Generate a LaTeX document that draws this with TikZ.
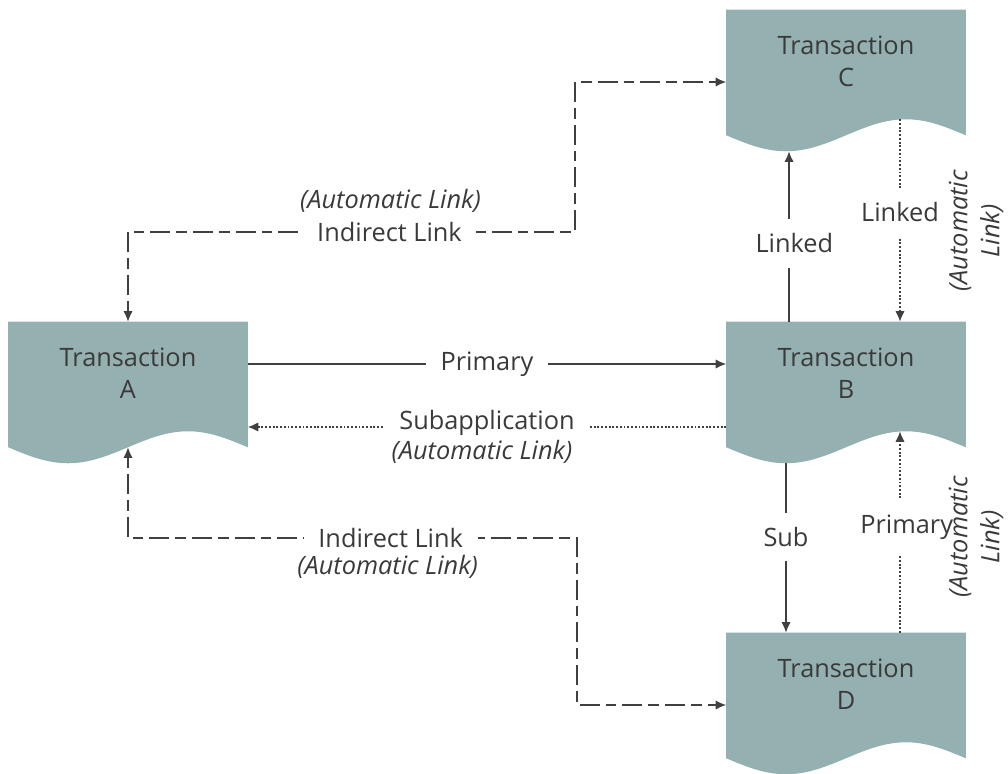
\documentclass[tikz,border=0pt]{standalone}
\usepackage{fontspec}
\setmainfont{Open Sans}
\usetikzlibrary{arrows.meta,positioning,calc}
\definecolor{docfill}{RGB}{148,176,176}
\definecolor{linkgray}{RGB}{64,64,64}
\definecolor{txtgray}{RGB}{58,58,58}
\newcommand{\bigtxt}{\fontsize{19}{24}\selectfont}
% document shape with a wavy bottom, filled under the named node
\newcommand{\transdoc}[1]{%
  \fill[docfill] (#1.north west) -- (#1.north east) -- (#1.south east)
    sin ($(#1.south east)+(-59.75,-16)$) cos (#1.south)
    sin ($(#1.south west)+(59.75,16)$) cos (#1.south west) -- cycle;}

\begin{document}
\begin{tikzpicture}[x=0.75pt, y=-0.75pt,
  >={Latex[length=8pt,width=7pt]},
  trans/.style={rectangle, minimum width=179.25pt, minimum height=93.75pt, inner sep=0pt},
  transtext/.style={align=center, inner sep=0pt, text=txtgray, font=\bigtxt},
  lbl/.style={fill=white, inner sep=11pt, text=txtgray, font=\bigtxt},
  autolbl/.style={inner sep=0pt, text=txtgray, font=\bigtxt\itshape, align=center},
  link/.style={draw=linkgray, line width=1.1pt, ->},
  dashlink/.style={link, dash pattern=on 8pt off 4.5pt on 15pt off 4.5pt},
  dotlink/.style={link, line width=1pt, dash pattern=on 1.4pt off 1.4pt}
]
\useasboundingbox (0,0) rectangle (1008,774);

% transactions
\node[trans] (A) at (128,384.5) {};
\transdoc{A}
\node[transtext, below=19.5pt of A.north] (Atext) {Transaction\\A};

\node[trans] (B) at (846,384.5) {};
\transdoc{B}
\node[transtext, below=19.5pt of B.north] (Btext) {Transaction\\B};

\node[trans] (C) at (846,72.5) {};
\transdoc{C}
\node[transtext, below=19.5pt of C.north] (Ctext) {Transaction\\C};

\node[trans] (D) at (846,695.5) {};
\transdoc{D}
\node[transtext, below=19.5pt of D.north] (Dtext) {Transaction\\D};

% A <-> B
\draw[link] ($(A.east)+(0,-20.5)$) -- node[lbl] (prim) {Primary} ($(B.west)+(0,-20.5)$);
\draw[dotlink] ($(B.west)+(0,42.5)$) -- node[lbl, yshift=3pt] (subapp) {Subapplication} ($(A.east)+(0,42.5)$);
\node[autolbl] (subauto) at ($(subapp)+(-5,29)$) {(Automatic Link)};

% B <-> C
\draw[link] ($(B.north)+(-57,0)$) -- node[lbl, pos=0.46, xshift=4pt] (lnkBC) {Linked} ($(C.south)+(-57,16)$);
\draw[dotlink] ($(C.south)+(54,-16)$) -- node[lbl, pos=0.46] (lnkCB) {Linked} ($(B.north)+(54,0)$);
\node[autolbl, rotate=90] (autoCB) at (976,231) {(Automatic\\Link)};

% B <-> D
\draw[link] ($(B.south)+(-60,16)$) -- node[lbl, pos=0.435] (subBD) {Sub} ($(D.north)+(-60,0)$);
\draw[dotlink] ($(D.north)+(54,0)$) -- node[lbl, pos=0.525, xshift=5pt] (primDB) {Primary} ($(B.south)+(54,-16)$);
\node[autolbl, rotate=90] (autoDB) at (976,537) {(Automatic\\Link)};

% indirect links
\coordinate (upL) at (128,232);
\coordinate (upR) at (575,232);
\coordinate (upT) at (575,82);
\draw[dashlink, <->] (A.north) -- (upL) -- node[lbl, pos=0.585] (upind) {Indirect Link} (upR)
  -- (upT) -- ($(C.west)+(0,9.5)$);
\node[autolbl] (upauto) at ($(upind)+(1,-31)$) {(Automatic Link)};

\coordinate (loL) at (128,538);
\coordinate (loR) at (577,538);
\coordinate (loB) at (577,705);
\draw[dashlink, <->] (A.south) -- (loL) -- node[lbl, pos=0.585] (loind) {Indirect Link} (loR)
  -- (loB) -- ($(D.west)+(0,9.5)$);
\node[autolbl] (loauto) at ($(loind)+(-3,29)$) {(Automatic Link)};
\end{tikzpicture}
\end{document}
